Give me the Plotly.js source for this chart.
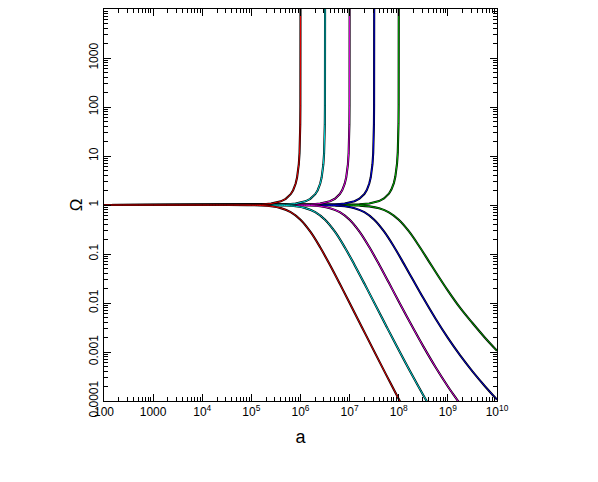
<!DOCTYPE html>
<html>
<head>
<meta charset="utf-8">
<script src="https://cdn.plot.ly/plotly-3.0.1.min.js"></script>
<style>html,body{margin:0;padding:0;background:#fff;}#chart{width:598px;height:482px;}</style>
</head>
<body>
<div id="chart"></div>
<script>
// x positions are stored as log10(a); y values are Omega
const redClosedLogA = [2, 4, 4.5, 5, 5.2, 5.4, 5.5, 5.6, 5.7, 5.8, 5.85, 5.9, 5.93, 5.95, 5.965, 5.98, 5.99, 5.995, 5.998, 5.999, 5.9996, 5.9999, 5.99998];
const redClosedOmega = [1, 1.0001, 1.001, 1.0101, 1.0258, 1.0674, 1.1111, 1.1884, 1.3355, 1.6614, 2.0048, 2.71, 3.628, 4.861, 6.717, 11.37, 22.22, 43.93, 109.1, 217.6, 543, 2172, 10860];
const cyanClosedLogA = [2, 4.5, 5, 5.5, 5.7, 5.9, 6.0, 6.1, 6.2, 6.3, 6.35, 6.4, 6.43, 6.45, 6.465, 6.48, 6.49, 6.495, 6.498, 6.499, 6.4996, 6.4999, 6.49998];
const cyanClosedOmega = [1, 1.0001, 1.001, 1.0101, 1.0258, 1.0674, 1.1111, 1.1884, 1.3355, 1.6614, 2.0048, 2.71, 3.628, 4.861, 6.717, 11.37, 22.22, 43.93, 109.1, 217.6, 543, 2172, 10860];
const magentaClosedLogA = [2, 5, 5.5, 6, 6.2, 6.4, 6.5, 6.6, 6.7, 6.8, 6.85, 6.9, 6.93, 6.95, 6.965, 6.98, 6.99, 6.995, 6.998, 6.999, 6.9996, 6.9999, 6.99998];
const magentaClosedOmega = [1, 1.0001, 1.001, 1.0102, 1.026, 1.068, 1.113, 1.191, 1.339, 1.667, 2.011, 2.72, 3.64, 4.88, 6.74, 11.42, 22.3, 44.1, 109.5, 218.5, 545, 2180, 10880];
const blueClosedLogA = [2, 5.5, 6, 6.5, 6.7, 6.9, 7.0, 7.1, 7.2, 7.3, 7.35, 7.4, 7.43, 7.45, 7.465, 7.48, 7.49, 7.495, 7.498, 7.499, 7.4996, 7.4999, 7.49998];
const blueClosedOmega = [1, 1.0001, 1.001, 1.0104, 1.0265, 1.069, 1.116, 1.195, 1.345, 1.677, 2.024, 2.74, 3.67, 4.92, 6.80, 11.53, 22.5, 44.5, 110.6, 220.5, 550, 2200, 10950];
const greenClosedLogA = [2, 6, 6.5, 7, 7.2, 7.4, 7.5, 7.6, 7.7, 7.8, 7.85, 7.9, 7.93, 7.95, 7.965, 7.98, 7.99, 7.995, 7.998, 7.999, 7.9996, 7.9999, 7.99998];
const greenClosedOmega = [1, 1.0001, 1.0011, 1.011, 1.028, 1.0726, 1.1194, 1.2015, 1.3571, 1.7005, 2.0614, 2.8013, 3.7642, 5.0564, 6.9993, 11.869, 23.24, 46.0, 114.2, 227.7, 569, 2276, 11380];

const redOpenLogA = [2, 4, 4.5, 5, 5.2, 5.4, 5.6, 5.8, 6, 6.2, 6.4, 6.6, 6.8, 7, 7.25, 7.5, 7.75, 8, 8.1];
const redOpenOmega = [1, 0.9999, 0.999, 0.990, 0.9755, 0.9406, 0.8632, 0.7153, 0.5, 0.2849, 0.1370, 0.0595, 0.02463, 0.009989, 0.003205, 0.0010295, 3.336e-4, 1.0988e-4, 7.096e-5];
const cyanOpenLogA = [2, 4.5, 5, 5.5, 5.7, 5.9, 6.1, 6.3, 6.5, 6.7, 6.9, 7.1, 7.3, 7.5, 7.75, 8, 8.25, 8.5, 8.6];
const cyanOpenOmega = [1, 0.9999, 0.999, 0.990, 0.9755, 0.9406, 0.8632, 0.7153, 0.5, 0.2851, 0.13736, 0.05987, 0.024904, 0.010179, 0.0033185, 0.0010953, 3.711e-4, 1.3119e-4, 8.793e-5];
const magentaOpenLogA = [2, 5, 5.5, 6, 6.2, 6.4, 6.6, 6.8, 7, 7.2, 7.4, 7.6, 7.8, 8, 8.25, 8.5, 8.75, 9, 9.125, 9.25];
const magentaOpenOmega = [1, 0.9999, 0.999, 0.9899, 0.9753, 0.9403, 0.8628, 0.7146, 0.5, 0.2859, 0.13856, 0.06099, 0.025765, 0.010774, 0.0036741, 0.0013015, 4.889e-4, 1.9798e-4, 1.2994e-4, 8.697e-5];
const blueOpenLogA = [2, 5.5, 6, 6.5, 6.7, 6.9, 7.1, 7.3, 7.5, 7.7, 7.9, 8.1, 8.3, 8.5, 8.75, 9, 9.25, 9.5, 9.75, 10];
const blueOpenOmega = [1, 0.9999, 0.99897, 0.98982, 0.97486, 0.93934, 0.86097, 0.71294, 0.5, 0.28838, 0.14224, 0.064421, 0.028378, 0.012598, 0.0047662, 0.0019349, 8.5085e-4, 4.0327e-4, 2.0297e-4, 1.0662e-4];
const greenOpenLogA = [2, 6, 6.5, 7, 7.2, 7.4, 7.6, 7.8, 8, 8.2, 8.4, 8.6, 8.8, 9, 9.25, 9.5, 9.75, 10];
const greenOpenOmega = [1, 0.99989, 0.9989, 0.98923, 0.97352, 0.93658, 0.8564, 0.70825, 0.5, 0.29541, 0.15273, 0.074239, 0.035908, 0.017857, 0.0079227, 0.0039, 0.00198, 0.00106];

const xTickVals = [100, 1000, 1e4, 1e5, 1e6, 1e7, 1e8, 1e9, 1e10];
const xTickText = ['100', '1000', '10<sup>4</sup>', '10<sup>5</sup>', '10<sup>6</sup>', '10<sup>7</sup>', '10<sup>8</sup>', '10<sup>9</sup>', '10<sup>10</sup>'];
const yTickVals = [1e-4, 1e-3, 0.01, 0.1, 1, 10, 100, 1000, 1e4];
const yTickText = ['0.0001', '0.001', '0.01', '0.1', '1', '10', '100', '1000', '10<sup>4</sup>'];

const curves = [
  {color: '#00b000', closed: [greenClosedLogA, greenClosedOmega], open: [greenOpenLogA, greenOpenOmega]},
  {color: '#0000e0', closed: [blueClosedLogA, blueClosedOmega], open: [blueOpenLogA, blueOpenOmega]},
  {color: '#e000e0', closed: [magentaClosedLogA, magentaClosedOmega], open: [magentaOpenLogA, magentaOpenOmega]},
  {color: '#00d8d8', closed: [cyanClosedLogA, cyanClosedOmega], open: [cyanOpenLogA, cyanOpenOmega]},
  {color: '#e00000', closed: [redClosedLogA, redClosedOmega], open: [redOpenLogA, redOpenOmega]}
];

const toA = arr => arr.map(v => Math.pow(10, v));
const traces = [];
curves.forEach(c => {
  [c.closed, c.open].forEach((br, i) => {
    const shape = i === 0 ? 'linear' : 'spline';
    traces.push({x: toA(br[0]), y: br[1], mode: 'lines', type: 'scatter', hoverinfo: 'skip',
      line: {color: '#000000', width: 2.1, shape: shape}, showlegend: false});
    traces.push({x: toA(br[0]), y: br[1], mode: 'lines', type: 'scatter', hoverinfo: 'skip',
      line: {color: c.color, width: 1.0, shape: shape}, showlegend: false});
  });
});

const font = {family: 'Liberation Sans, Arial, sans-serif', size: 12, color: '#000'};
const layout = {
  width: 598, height: 482,
  margin: {l: 104, r: 101, t: 9, b: 81, pad: 0},
  paper_bgcolor: '#fff', plot_bgcolor: '#fff',
  font: font,
  showlegend: false,
  xaxis: {
    type: 'log', range: [2, 10], showgrid: false, zeroline: false,
    showline: true, linecolor: '#000', linewidth: 1, mirror: 'allticks',
    ticks: 'inside', ticklen: 7, tickcolor: '#000', tickwidth: 1,
    tickmode: 'array', tickvals: xTickVals, ticktext: xTickText,
    tickfont: font,
    minor: {ticks: 'inside', ticklen: 4, tickcolor: '#000', dtick: 'D1', showgrid: false},
    title: {text: 'a', font: {family: 'Liberation Sans, Arial, sans-serif', size: 18, color: '#000'}, standoff: 11}
  },
  yaxis: {
    type: 'log', range: [-4, 4], showgrid: false, zeroline: false,
    showline: true, linecolor: '#000', linewidth: 1, mirror: 'allticks',
    ticks: 'inside', ticklen: 7, tickcolor: '#000', tickwidth: 1,
    tickmode: 'array', tickvals: yTickVals, ticktext: yTickText,
    tickangle: -90, tickfont: font,
    minor: {ticks: 'inside', ticklen: 4, tickcolor: '#000', dtick: 'D1', showgrid: false},
    title: {text: 'Ω', font: {family: 'Liberation Sans, Arial, sans-serif', size: 17, color: '#000'}, standoff: 0}
  }
};

Plotly.newPlot('chart', traces, layout, {staticPlot: true, displayModeBar: false});
</script>
</body>
</html>
